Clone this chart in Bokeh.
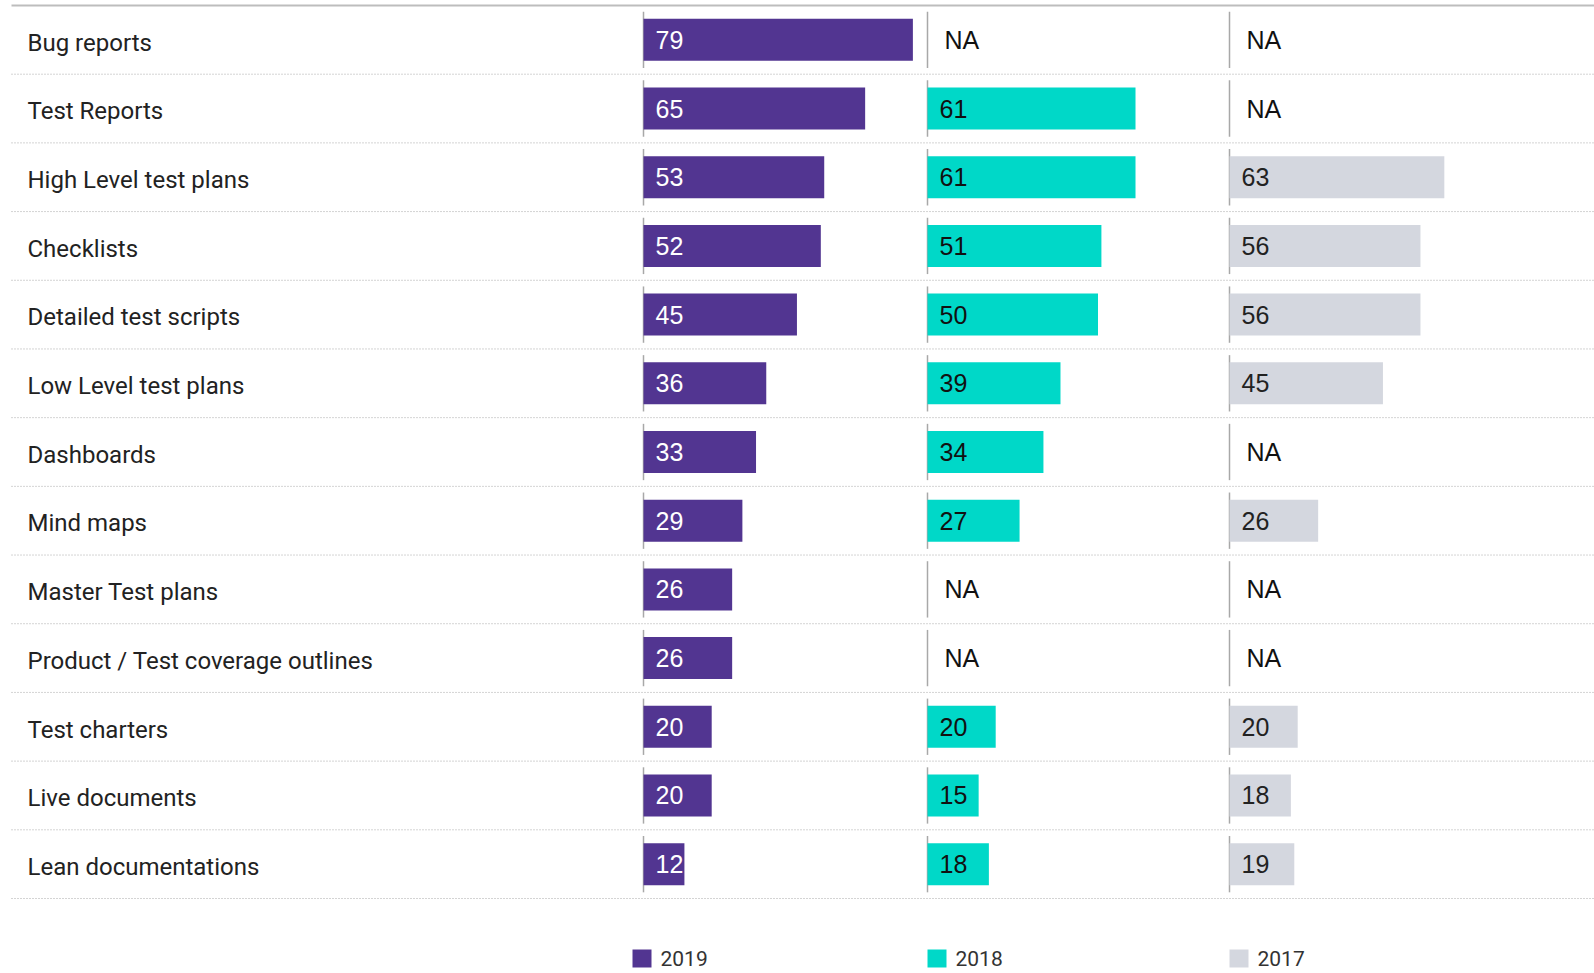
from bokeh.plotting import figure
from bokeh.models import ColumnDataSource, Range1d
from bokeh.core.properties import value
from bokeh.embed import file_html
from bokeh.resources import INLINE

# ---------------- data ----------------
categories = [
    "Bug reports", "Test Reports", "High Level test plans", "Checklists",
    "Detailed test scripts", "Low Level test plans", "Dashboards", "Mind maps",
    "Master Test plans", "Product / Test coverage outlines", "Test charters",
    "Live documents", "Lean documentations",
]
years = ["2019", "2018", "2017"]
v2019 = [79, 65, 53, 52, 45, 36, 33, 29, 26, 26, 20, 20, 12]
v2018 = [None, 61, 61, 51, 50, 39, 34, 27, None, None, 20, 15, 18]
v2017 = [None, None, 63, 56, 56, 45, None, 26, None, None, 20, 18, 19]
series = [v2019, v2018, v2017]

colors = ["#523591", "#00d8c8", "#d4d7df"]
label_colors = ["#ffffff", "#111111", "#222222"]

# ---------------- layout (page pixels) ----------------
W, H = 1594, 973
K = 3.41            # pixels per value unit
TOP = 5             # page y of top rule
BOT = 898           # page y of last separator
n = len(categories)
ROW = (BOT - TOP) / n
base0 = 643
page_base = [643, 927, 1229]           # page x of each column baseline
offsets = [(b - base0) / K for b in page_base]
x_start = (0 - base0) / K
x_end = x_start + W / K
y_top = -0.5 - TOP / ROW
y_bottom = y_top + H / ROW

p = figure(width=W, height=H, output_backend="svg", toolbar_location=None,
           x_range=Range1d(x_start, x_end), y_range=Range1d(y_bottom, y_top),
           min_border=0)
p.axis.visible = False
p.grid.visible = False
p.outline_line_color = None
p.background_fill_color = "white"

rows = list(range(n))
line_left = (11 - base0) / K

# top solid line
p.segment(x0=[line_left], x1=[x_end], y0=[-0.5], y1=[-0.5],
          line_color="#bdbdbd", line_width=2)
# dotted separators
p.segment(x0=[line_left] * n, x1=[x_end] * n,
          y0=[r + 0.5 for r in rows], y1=[r + 0.5 for r in rows],
          line_color="#a8a8a8", line_width=1, line_dash="1 2")

# column baselines per row
for off in offsets:
    p.segment(x0=[off] * n, x1=[off] * n,
              y0=[r - 0.41 for r in rows], y1=[r + 0.41 for r in rows],
              line_color="#a8a8a8", line_width=1.5)

# category labels
p.text(x=[(27 - base0) / K] * n, y=[r + 0.04 for r in rows], text=categories,
       text_font=value("Roboto"), text_font_size="24px", text_color="#222222",
       text_align="left", text_baseline="middle")

bar_h = 42 / ROW
for vals, off, col, lcol in zip(series, offsets, colors, label_colors):
    ys = [r for r, v in zip(rows, vals) if v is not None]
    vs = [v for v in vals if v is not None]
    src = ColumnDataSource(dict(y=ys, left=[off] * len(vs),
                                right=[off + v for v in vs],
                                tx=[off + 12 / K] * len(vs),
                                lab=[str(v) for v in vs]))
    p.hbar(y="y", left="left", right="right", height=bar_h, source=src,
           fill_color=col, line_color=None)
    p.text(x="tx", y="y", text="lab", source=src,
           text_font=value("Liberation Sans"), text_font_size="25px",
           text_color=lcol, text_align="left", text_baseline="middle")
    na_rows = [r for r, v in zip(rows, vals) if v is None]
    if na_rows:
        p.text(x=[off + 17 / K] * len(na_rows), y=na_rows,
               text=["NA"] * len(na_rows),
               text_font=value("Liberation Sans"), text_font_size="25px",
               text_color="#111111", text_align="left", text_baseline="middle")

# legend (manual, aligned under columns)
leg_y = -0.5 + (958 - TOP) / ROW
leg_x = [(632 - 643) / K, 0.0, 0.0]
for off, lx, col, yr in zip(offsets, leg_x, colors, years):
    p.rect(x=[off + lx + 9.5 / K], y=[leg_y], width=19, height=18,
           width_units="screen", height_units="screen",
           fill_color=col, line_color=None)
    p.text(x=[off + lx + 28 / K], y=[leg_y], text=[yr],
           text_font=value("Roboto"), text_font_size="21px",
           text_color="#333333", text_align="left", text_baseline="middle")

open("out.html", "w").write(file_html(p, INLINE))
